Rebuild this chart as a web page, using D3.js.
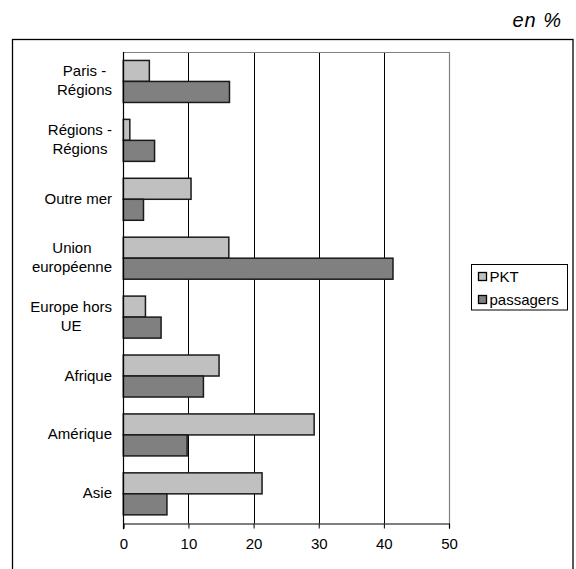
<!DOCTYPE html>
<html>
<head>
<meta charset="utf-8">
<script src="https://cdn.jsdelivr.net/npm/d3@7"></script>
<style>
  html, body { margin: 0; padding: 0; background: #fff; }
  svg { display: block; font-family: "Liberation Sans", Arial, sans-serif; }
</style>
</head>
<body>
<svg id="chart" width="576" height="569"></svg>
<script>
// ---- data ----
const categories = ["Paris -\nRégions", "Régions -\nRégions", "Outre mer", "Union\neuropéenne",
                    "Europe hors\nUE", "Afrique", "Amérique", "Asie"];
const seriesNames = ["PKT", "passagers"];
const pkt       = [4.0, 1.0, 10.4, 16.2, 3.4, 14.7, 29.3, 21.3];
const passagers = [16.3, 4.8, 3.1, 41.4, 5.8, 12.3, 9.8, 6.7];
const xTicks = [0, 10, 20, 30, 40, 50];
const unitLabel = "en %";

const colors = { PKT: "#c0c0c0", passagers: "#808080" };
const FONT = "'Liberation Sans', Arial, sans-serif";

const rows = categories.map((c, i) => ({ cat: c, PKT: pkt[i], passagers: passagers[i] }));

const svg = d3.select("#chart");

// outer frame
svg.append("rect").attr("x", 12.5).attr("y", 39.5).attr("width", 560.5).attr("height", 540)
  .attr("fill", "#fff").attr("stroke", "#000").attr("stroke-width", 1.3);

// unit label
svg.append("text").attr("x", 562).attr("y", 27).attr("text-anchor", "end")
  .attr("font-family", FONT)
  .attr("font-size", 20).attr("font-style", "italic").attr("fill", "#000")
  .attr("letter-spacing", 1).text(unitLabel);

const plot = { left: 123.3, right: 449, top: 52, bottom: 523.3 };

const x = d3.scaleLinear().domain([0, 50]).range([plot.left, plot.right]);
const y = d3.scaleBand().domain(categories).range([plot.top, plot.bottom])
  .paddingInner(0.287).paddingOuter(0.1435);
const ySub = d3.scaleBand().domain(seriesNames).range([0, y.bandwidth()]).padding(0);

// gridlines
svg.append("g").selectAll("line").data(xTicks.filter(t => t > 0 && t < 50)).join("line")
  .attr("x1", d => Math.round(x(d)) + 0.5).attr("x2", d => Math.round(x(d)) + 0.5)
  .attr("y1", plot.top).attr("y2", plot.bottom)
  .attr("stroke", "#000").attr("stroke-width", 1);

// plot area border (top, right) in grey
svg.append("path")
  .attr("d", `M${Math.round(plot.left)+0.5},${plot.top+0.5}H${Math.round(plot.right)+0.5}V${plot.bottom}`)
  .attr("fill", "none").attr("stroke", "#808080").attr("stroke-width", 1.2);

// bars
const g = svg.append("g");
rows.forEach(r => {
  seriesNames.forEach(s => {
    g.append("rect")
      .attr("x", x(0))
      .attr("y", y(r.cat) + ySub(s))
      .attr("width", x(r[s]) - x(0))
      .attr("height", ySub.bandwidth())
      .attr("fill", colors[s])
      .attr("stroke", "#1a1a1a").attr("stroke-width", 1.5);
  });
});

// x axis
const xAxis = d3.axisBottom(x).tickValues(xTicks).tickSize(5).tickPadding(10).tickFormat(d3.format("d"));
const ax = svg.append("g").attr("transform", `translate(0,${Math.round(plot.bottom)+0.5})`).call(xAxis);
ax.select(".domain").attr("stroke", "#000").attr("stroke-width", 1.2);
ax.selectAll(".tick line").attr("stroke", "#000");
ax.selectAll(".tick text").attr("font-size", 15).attr("fill", "#000")
  .attr("font-family", FONT);

// y axis line
svg.append("line").attr("x1", Math.round(plot.left)+0.5).attr("x2", Math.round(plot.left)+0.5)
  .attr("y1", plot.top).attr("y2", plot.bottom + 6)
  .attr("stroke", "#000").attr("stroke-width", 1.2);

// category labels
const labRight = 112;
const lineH = 19;
categories.forEach(c => {
  const lines = c.split("\n");
  const t = svg.append("text").attr("font-size", 15).attr("fill", "#000").attr("text-anchor", "middle")
    .attr("font-family", FONT);
  const cy = y(c) + y.bandwidth() / 2;
  const spans = lines.map((l, i) => t.append("tspan").text(l)
      .attr("y", cy + (i - (lines.length - 1) / 2) * lineH + 4.5));
  const maxW = d3.max(spans, s => s.node().getComputedTextLength());
  spans.forEach(s => s.attr("x", labRight - maxW / 2));
});

// legend
const lg = svg.append("g");
lg.append("rect").attr("x", 471.5).attr("y", 264.5).attr("width", 96).attr("height", 45.5)
  .attr("fill", "#fff").attr("stroke", "#000").attr("stroke-width", 1);
seriesNames.forEach((s, i) => {
  const yy = 272 + i * 23;
  lg.append("rect").attr("x", 478.5).attr("y", yy + 0.5).attr("width", 8).attr("height", 8)
    .attr("fill", colors[s]).attr("stroke", "#000").attr("stroke-width", 1.3);
  lg.append("text").attr("x", 489.5).attr("y", yy + 9.5).attr("font-size", 15).attr("fill", "#000")
    .attr("font-family", FONT).text(s);
});
</script>
</body>
</html>
